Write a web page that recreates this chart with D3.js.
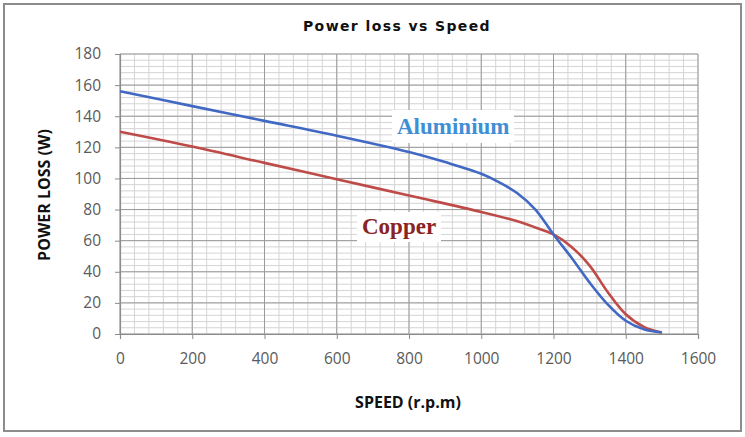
<!DOCTYPE html>
<html lang="en">
<head>
<script src="https://d3js.org/d3.v7.min.js"></script>
<style>
  body { margin: 0; background: #fff; }
</style>
</head>
<body>
<script type="text/javascript">

// data
var alSpeed = [0, 200, 400, 600, 800, 900, 1000, 1050, 1100, 1150, 1200, 1250, 1300, 1350, 1400, 1450, 1500];
var aluminium = [156, 146.5, 137, 127.5, 117, 110.5, 103, 97.5, 90.5, 80, 64, 49, 33, 19, 8.5, 3, 1];
var cuSpeed = [0, 200, 400, 600, 800, 1000, 1100, 1150, 1200, 1250, 1300, 1350, 1400, 1450, 1500];
var copper = [130, 120.5, 110, 99.5, 89, 78.5, 72.5, 68.5, 64, 56, 44, 27, 12.7, 4.6, 1];
var xTicks = [0, 200, 400, 600, 800, 1000, 1200, 1400, 1600];
var yTicks = [0, 20, 40, 60, 80, 100, 120, 140, 160, 180];

var width = 745, height = 437;
var plotLeft = 120, plotRight = 698, plotTop = 54, plotBottom = 334;

var svg = d3.select("body").append("svg")
  .attr("width", width)
  .attr("height", height);

// outer frame
svg.append("rect")
  .attr("x", 4).attr("y", 4)
  .attr("width", 737).attr("height", 427)
  .attr("fill", "#fff")
  .attr("stroke", "#8c8c8c")
  .attr("stroke-width", 2);

var x = d3.scaleLinear().domain([0, 1600]).range([plotLeft, plotRight]);
var y = d3.scaleLinear().domain([0, 180]).range([plotBottom, plotTop]);

// minor grid
var grid = svg.append("g");
grid.selectAll(".vminor")
  .data(d3.range(0, 1601, 40))
  .enter().append("line")
  .attr("x1", d => x(d)).attr("x2", d => x(d))
  .attr("y1", plotTop).attr("y2", plotBottom)
  .attr("stroke", "#d4d4d4").attr("stroke-width", 1);
grid.selectAll(".hminor")
  .data(d3.range(0, 181, 4))
  .enter().append("line")
  .attr("x1", plotLeft).attr("x2", plotRight)
  .attr("y1", d => y(d)).attr("y2", d => y(d))
  .attr("stroke", "#d4d4d4").attr("stroke-width", 1);
// major grid
grid.selectAll(".vmajor")
  .data(xTicks)
  .enter().append("line")
  .attr("x1", d => x(d)).attr("x2", d => x(d))
  .attr("y1", plotTop).attr("y2", plotBottom)
  .attr("stroke", "#9a9a9a").attr("stroke-width", 1);
grid.selectAll(".hmajor")
  .data(yTicks)
  .enter().append("line")
  .attr("x1", plotLeft).attr("x2", plotRight)
  .attr("y1", d => y(d)).attr("y2", d => y(d))
  .attr("stroke", "#9a9a9a").attr("stroke-width", 1);

// axes
var xAxis = svg.append("g")
  .attr("transform", "translate(0," + plotBottom + ")")
  .call(d3.axisBottom(x).tickValues(xTicks).tickSize(5).tickPadding(14).tickFormat(d3.format("d")));
var yAxis = svg.append("g")
  .attr("transform", "translate(" + plotLeft + ",0)")
  .call(d3.axisLeft(y).tickValues(yTicks).tickSize(5).tickPadding(14).tickFormat(d3.format("d")));

[xAxis, yAxis].forEach(function(a) {
  a.select(".domain").attr("stroke", "#8c8c8c").attr("stroke-width", 1.2);
  a.selectAll(".tick line").attr("stroke", "#8c8c8c");
  a.selectAll(".tick text")
    .attr("fill", "#5a5a5a")
    .style("font-family", "'Open Sans', sans-serif")
    .style("font-size", "15.5px");
});

// lines
var line = d3.line()
  .x(d => x(d[0]))
  .y(d => y(d[1]))
  .curve(d3.curveCatmullRom.alpha(0.5));

svg.append("path")
  .datum(cuSpeed.map((s, i) => [s, copper[i]]))
  .attr("d", line)
  .attr("fill", "none")
  .attr("stroke", "#be4b48")
  .attr("stroke-width", 2.6);

svg.append("path")
  .datum(alSpeed.map((s, i) => [s, aluminium[i]]))
  .attr("d", line)
  .attr("fill", "none")
  .attr("stroke", "#4169c4")
  .attr("stroke-width", 2.6);

// series labels with white boxes
svg.append("rect").attr("x", 392).attr("y", 110).attr("width", 122).attr("height", 33).attr("fill", "#fff");
svg.append("text")
  .attr("x", 397).attr("y", 134)
  .style("font-family", "'Liberation Serif', serif")
  .style("font-weight", "bold")
  .style("font-size", "23px")
  .attr("fill", "#3f8fd6")
  .text("Aluminium");

svg.append("rect").attr("x", 357).attr("y", 212).attr("width", 84).attr("height", 30).attr("fill", "#fff");
svg.append("text")
  .attr("x", 362).attr("y", 234)
  .style("font-family", "'Liberation Serif', serif")
  .style("font-weight", "bold")
  .style("font-size", "23px")
  .attr("fill", "#8b2323")
  .text("Copper");

// title
svg.append("text")
  .attr("x", 397).attr("y", 31)
  .attr("text-anchor", "middle")
  .style("font-family", "'DejaVu Sans', Verdana, sans-serif")
  .style("font-weight", "bold")
  .style("font-size", "14px")
  .style("letter-spacing", "1.4px")
  .attr("fill", "#111")
  .text("Power loss vs Speed");

// axis titles
svg.append("text")
  .attr("x", 408).attr("y", 408)
  .attr("text-anchor", "middle")
  .style("font-family", "'Open Sans', sans-serif")
  .style("font-weight", "bold")
  .style("font-size", "16px")
  .attr("fill", "#111")
  .text("SPEED (r.p.m)");

svg.append("text")
  .attr("transform", "translate(50,195) rotate(-90)")
  .attr("text-anchor", "middle")
  .style("font-family", "'Open Sans', sans-serif")
  .style("font-weight", "bold")
  .style("font-size", "16px")
  .attr("fill", "#111")
  .text("POWER LOSS (W)");

</script>
</body>
</html>
